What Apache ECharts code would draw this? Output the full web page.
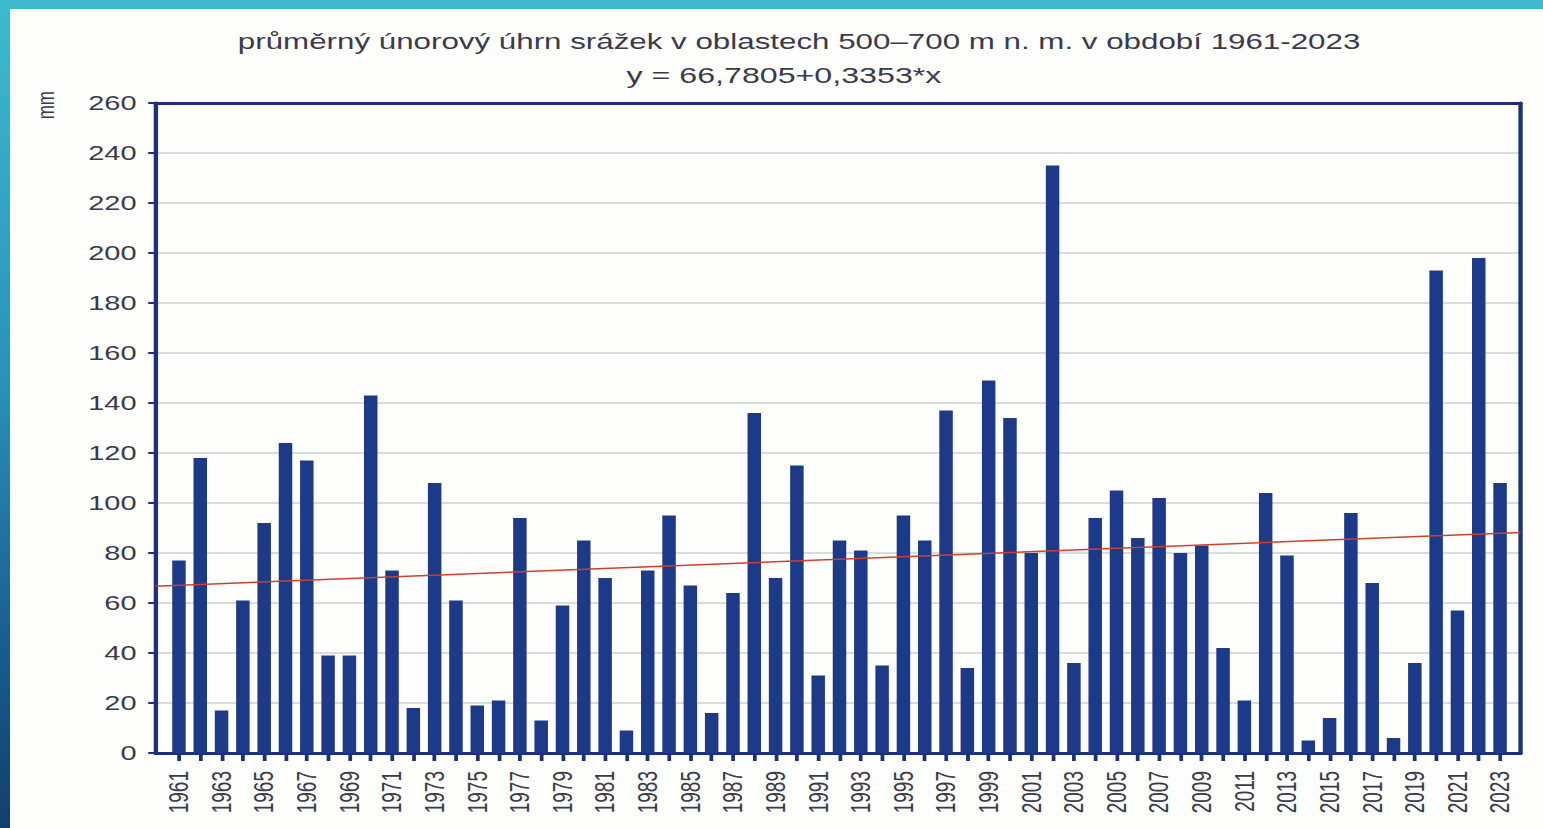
<!DOCTYPE html>
<html>
<head>
<meta charset="utf-8">
<script src="https://cdn.jsdelivr.net/npm/echarts@6/dist/echarts.min.js"></script>
<style>
  html, body { margin: 0; padding: 0; width: 1543px; height: 828px; overflow: hidden; }
  body { background: linear-gradient(to bottom, #3dbace 0%, #2a93bb 45%, #175a8c 80%, #12406c 100%); position: relative; }
  #paper { position: absolute; left: 10px; top: 9px; right: 0; bottom: 0; background: #fefefc; }
  #chart { position: absolute; left: 0; top: 0; width: 1064px; height: 828px; transform: scaleX(1.4502); transform-origin: 0 0; }
</style>
</head>
<body>
<div id="paper"></div>
<div id="chart"></div>
<script>
const years = [];
for (let y = 1961; y <= 2023; y++) years.push(String(y));

const precipitation = [
  77, 118, 17, 61, 92, 124, 117, 39, 39, 143,
  73, 18, 108, 61, 19, 21, 94, 13, 59, 85,
  70, 9, 73, 95, 67, 16, 64, 136, 70, 115,
  31, 85, 81, 35, 95, 85, 137, 34, 149, 134,
  80, 235, 36, 94, 105, 86, 102, 80, 83, 42,
  21, 104, 79, 5, 14, 96, 68, 6, 36, 193,
  57, 198, 108
];

// regression from the subtitle: y = a + b*x, x = 1 for 1961
const trendIntercept = 66.7805;
const trendSlope = 0.3353;
const trendYears = [1959.9, 2024];

const yTicks = { min: 0, max: 260, interval: 20 };

const titleText = 'průměrný únorový úhrn srážek v oblastech 500–700 m n. m. v období 1961-2023';
const subtitleText = 'y = 66,7805+0,3353*x';
const unitText = 'mm';

const trendData = trendYears.map(yr => [yr, trendIntercept + trendSlope * (yr - 1960)]);

const navy = '#1c3a87';
const axisNavy = '#1d3272';
const textColor = '#3a3a4c';
const font = '"Liberation Sans", Arial, sans-serif';

const chart = echarts.init(document.getElementById('chart'), null, { renderer: 'svg' });
chart.setOption({
  backgroundColor: 'transparent',
  animation: false,
  title: [
    { text: titleText, left: 159, top: 26, textStyle: { fontFamily: font, fontSize: 21.6, fontWeight: 'normal', color: textColor } },
    { text: subtitleText, left: 427, top: 59, textStyle: { fontFamily: font, fontSize: 22.2, fontWeight: 'normal', color: textColor } }
  ],
  graphic: [
    { type: 'text', left: 22.5, top: 91, rotation: Math.PI / 2, style: { text: unitText, font: '17px ' + font, fill: textColor } }
  ],
  grid: [
    { left: 107.2, right: 15.5, top: 103, bottom: 75 },
    { left: 116.05, right: 22.27, top: 103, bottom: 75 }
  ],
  xAxis: [
    {
      gridIndex: 0, type: 'value', min: trendYears[0], max: trendYears[1],
      axisLine: { show: true, onZero: false, lineStyle: { color: axisNavy, width: 3 } },
      axisTick: { show: false }, axisLabel: { show: false }, splitLine: { show: false }
    },
    {
      gridIndex: 0, type: 'value', position: 'top', min: trendYears[0], max: trendYears[1],
      axisLine: { show: true, onZero: false, lineStyle: { color: axisNavy, width: 3 } },
      axisTick: { show: false }, axisLabel: { show: false }, splitLine: { show: false }
    },
    {
      gridIndex: 1,
      type: 'category',
      data: years,
      boundaryGap: true,
      axisLine: { show: true, onZero: false, lineStyle: { color: axisNavy, width: 3 } },
      axisTick: { show: true, alignWithLabel: true, interval: 0, length: 8, lineStyle: { color: axisNavy, width: 2.6 } },
      axisLabel: { interval: 1, rotate: 90, fontFamily: font, fontSize: 19, color: textColor, margin: 18 },
      splitLine: { show: false }
    }
  ],
  yAxis: [
    {
      gridIndex: 0, type: 'value',
      min: yTicks.min, max: yTicks.max, interval: yTicks.interval,
      axisLine: { show: true, onZero: false, lineStyle: { color: axisNavy, width: 3 } },
      axisTick: { show: true, length: 5, lineStyle: { color: axisNavy, width: 2 } },
      axisLabel: { fontFamily: font, fontSize: 20, color: textColor, margin: 13 },
      splitLine: { show: true, lineStyle: { color: '#d8dcdc', width: 2 } }
    },
    {
      gridIndex: 0, type: 'value', position: 'right',
      min: yTicks.min, max: yTicks.max, interval: yTicks.interval,
      axisLine: { show: true, onZero: false, lineStyle: { color: axisNavy, width: 3 } },
      axisTick: { show: false }, axisLabel: { show: false }, splitLine: { show: false }
    },
    {
      gridIndex: 1, type: 'value',
      min: yTicks.min, max: yTicks.max, interval: yTicks.interval,
      axisLine: { show: false }, axisTick: { show: false }, axisLabel: { show: false }, splitLine: { show: false }
    }
  ],
  series: [
    {
      type: 'bar',
      xAxisIndex: 2, yAxisIndex: 2,
      data: precipitation,
      barWidth: 9.3,
      itemStyle: { color: navy },
      z: 2
    },
    {
      type: 'line',
      xAxisIndex: 0, yAxisIndex: 0,
      data: trendData,
      symbol: 'none',
      lineStyle: { color: '#d0402e', width: 1.5 },
      z: 3
    }
  ]
});
</script>
</body>
</html>
